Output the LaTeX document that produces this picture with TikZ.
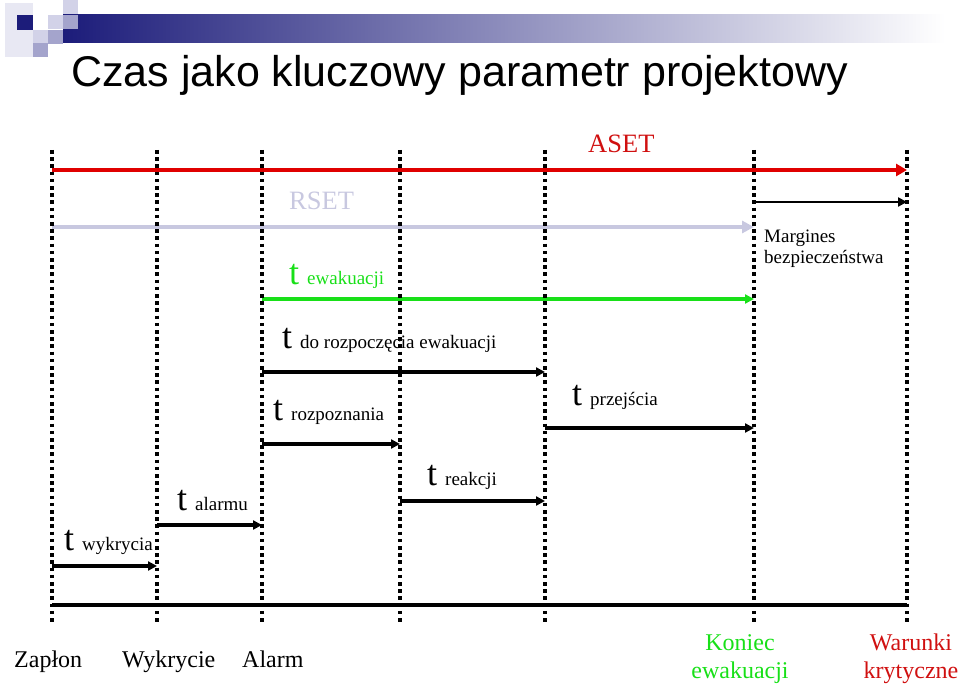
\documentclass[tikz,border=0pt]{standalone}
\usepackage{fontspec}
\setmainfont{Liberation Serif}
\newfontfamily\titlefont{Liberation Sans}
\usetikzlibrary{arrows.meta,calc,positioning}
\definecolor{Navy}{HTML}{1C1C7A}
\definecolor{Pale}{HTML}{E8E8F3}
\definecolor{Light}{HTML}{D2D2E8}
\definecolor{Mid}{HTML}{A4A4CC}
\definecolor{Lilac}{HTML}{C8C8E0}
\definecolor{Fire}{HTML}{E00000}
\definecolor{FireText}{HTML}{D01010}
\definecolor{Go}{HTML}{18E018}

\newcommand{\czas}[1]{{\fontsize{36}{36}\selectfont t}\hspace{8pt}{\fontsize{19}{21}\selectfont #1}}

\tikzset{
  guide/.style={line width=3.6pt, dash pattern=on 3.6pt off 3.6pt},
  lbl/.style={anchor=base west, inner sep=0pt},
  period/.style={line width=3.2pt, -{Triangle[length=9pt,width=9pt]}},
}

\begin{document}
\begin{tikzpicture}[x=1pt,y=-1pt,>=Latex]
      \useasboundingbox (0,0) rectangle (960,687);

      % naglowek
      \shade[left color=Navy,right color=white] (63,15) rectangle (945,43);
      \fill[Pale] (5,3) rectangle (33,57);
      \fill[Navy] (17,15) rectangle (33,30);
      \foreach \x/\y/\c in {63/0/Light,48/15/Light,63/15/Mid,33/30/Light,48/30/Mid,33/43/Mid} {
        \fill[\c] (\x,\y) rectangle ++(14.5,14.5);
      }
      \node[lbl, font=\titlefont\fontsize{43}{43}\selectfont] (title) at (71,87)
        {Czas jako kluczowy parametr projektowy};

      % chwile czasu i poziomy strzalek
      \foreach \n/\x in {zaplon/52,wykrycie/157,alarm/262,rozpoznanie/400,reakcja/545,koniec/754,krytyczne/907} {
        \coordinate (\n-top) at (\x,150);
        \coordinate (\n-bot) at (\x,622);
      }
      \foreach \n/\y in {aset/170,margin/202,rset/227,evac/299,prestart/372,transit/428,recog/444,react/501,alarmrow/525,detect/566,zero/605} {
        \coordinate (\n) at (0,\y);
      }

      \draw[line width=4.5pt, Fire, -{Triangle[length=11pt,width=12pt]}]
        (zaplon-top |- aset) -- (krytyczne-top |- aset);
      \draw[line width=4.5pt, Lilac, -{Triangle[length=12pt,width=12pt]}]
        (zaplon-top |- rset) -- (koniec-top |- rset);
      \draw[line width=2.8pt, -{Triangle[length=9pt,width=9pt]}]
        (koniec-top |- margin) -- (krytyczne-top |- margin);
      \draw[period, Go, line width=3.4pt] (alarm-top |- evac) -- (koniec-top |- evac);
      \draw[period] (alarm-top |- prestart) -- (reakcja-top |- prestart);
      \draw[period] (alarm-top |- recog) -- (rozpoznanie-top |- recog);
      \draw[period] (reakcja-top |- transit) -- (koniec-top |- transit);
      \draw[period] (rozpoznanie-top |- react) -- (reakcja-top |- react);
      \draw[period] (wykrycie-top |- alarmrow) -- (alarm-top |- alarmrow);
      \draw[period] (zaplon-top |- detect) -- (wykrycie-top |- detect);
      \draw[line width=4.5pt] (zaplon-top |- zero) -- (krytyczne-top |- zero);

      \foreach \n in {zaplon,wykrycie,alarm,rozpoznanie,reakcja,koniec,krytyczne} {
        \draw[guide] (\n-top) -- (\n-bot);
      }

      % opisy
      \node[lbl, FireText, font=\fontsize{26.5}{28}\selectfont] (asetlabel) at (588,153) {ASET};
      \node[lbl, Lilac, font=\fontsize{26.5}{28}\selectfont] (rsetlabel) at (289,209) {RSET};
      \node[lbl, font=\fontsize{19}{21}\selectfont, align=left] (marginlabel) at (764,263)
        {Margines\\bezpieczeństwa};
      \node[lbl, Go] (evaclabel) at (289,284) {\czas{ewakuacji}};
      \node[lbl] (prestartlabel) at (282,348) {\czas{do rozpoczęcia ewakuacji}};
      \node[lbl] (recoglabel) at (273,420) {\czas{rozpoznania}};
      \node[lbl] (transitlabel) at (572,405) {\czas{przejścia}};
      \node[lbl] (reactlabel) at (427,485) {\czas{reakcji}};
      \node[lbl] (alarmlabel) at (177,510) {\czas{alarmu}};
      \node[lbl] (detectlabel) at (64,550) {\czas{wykrycia}};

      \node[lbl, font=\fontsize{24}{28}\selectfont] (ignition) at (14,667) {Zapłon};
      \node[lbl, font=\fontsize{24}{28}\selectfont] (detection) at (122,667) {Wykrycie};
      \node[lbl, font=\fontsize{24}{28}\selectfont] (alarmtext) at (242,667) {Alarm};
      \node[anchor=base, inner sep=0pt, Go, font=\fontsize{24}{28}\selectfont, align=center]
        (evacend) at (740,678) {Koniec\\ewakuacji};
      \node[anchor=base, inner sep=0pt, FireText, font=\fontsize{24}{28}\selectfont, align=center]
        (critical) at (911,678) {Warunki\\krytyczne};
    \end{tikzpicture}
\end{document}
